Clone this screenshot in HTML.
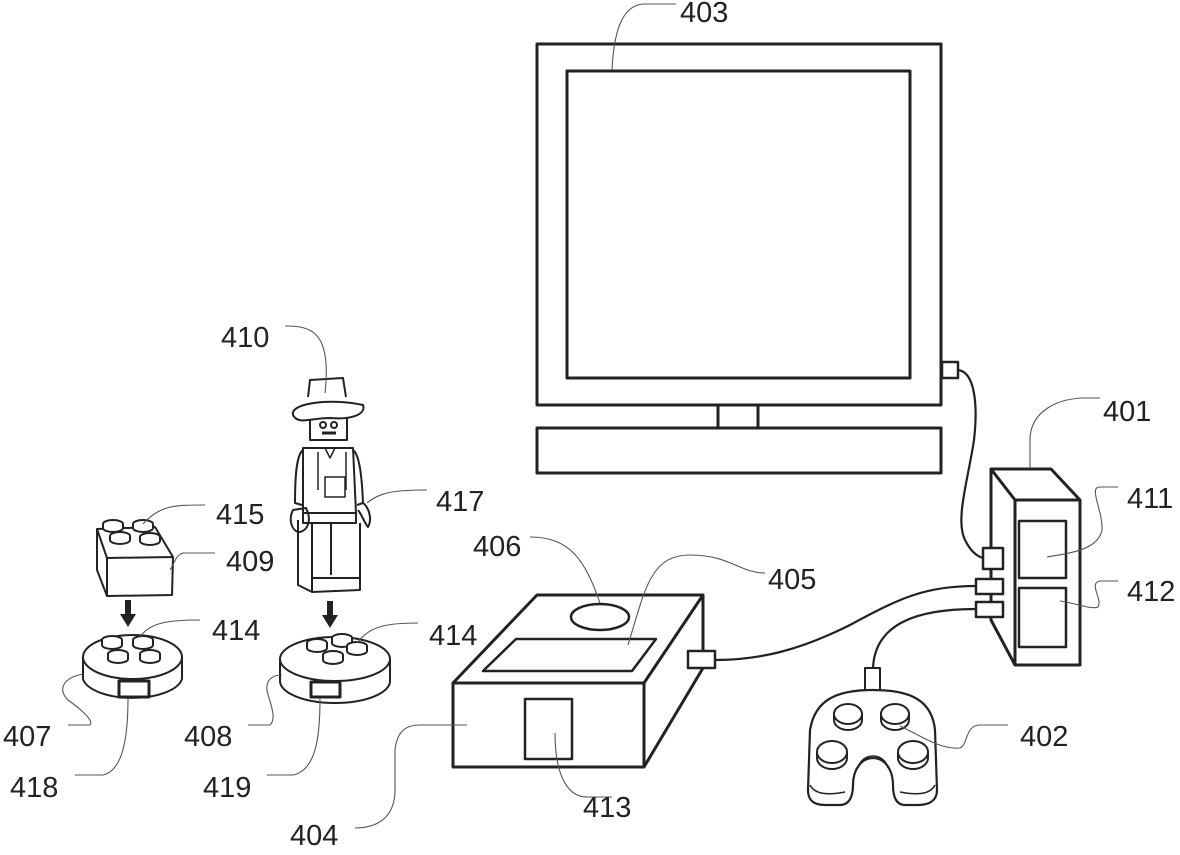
<!DOCTYPE html>
<html><head><meta charset="utf-8"><style>
html,body{margin:0;padding:0;background:#fff;}
svg{display:block;}
text{font-family:"Liberation Sans",sans-serif;font-size:29px;fill:#222;}
</style></head><body>
<svg width="1180" height="855" viewBox="0 0 1180 855" xmlns="http://www.w3.org/2000/svg">
<g fill="none" stroke="#222" stroke-width="3" stroke-linejoin="round">
<!-- monitor -->
<rect x="537" y="44" width="404" height="361"/>
<rect x="567" y="71" width="343" height="307"/>
<rect x="718" y="405" width="40" height="23"/>
<rect x="537" y="428" width="404" height="45"/>
<rect x="942" y="362" width="16" height="16" stroke-width="2.5"/>
<!-- console 401 -->
<path d="M991,469 L1051,469 L1080,500 L1080,665 L1015,665 L991,620 Z"/>
<path d="M991,469 L1015,500 L1080,500 M1015,500 L1015,665"/>
<rect x="1019" y="521" width="47" height="57" stroke-width="2.5"/>
<rect x="1019" y="588" width="47" height="59" stroke-width="2.5"/>
<rect x="983" y="548" width="20" height="21" fill="#fff" stroke-width="2.5"/>
<rect x="976" y="579" width="27" height="15" fill="#fff" stroke-width="2.5"/>
<rect x="976" y="602" width="27" height="15" fill="#fff" stroke-width="2.5"/>
<!-- cables -->
<path d="M958,370 C975,372 978,405 974,440 C968,480 955,520 965,540 C970,550 976,556 983,558" stroke-width="2.2"/>
<path d="M715,660 C760,660 800,650 850,625 C900,598 925,586 976,586" stroke-width="2.2"/>
<path d="M976,609 C920,609 875,622 873,668" stroke-width="2.2"/>
<!-- box 404 -->
<path d="M453,683 L537,595 L703,595 L703,651"/>
<path d="M703,668 L644,767"/>
<rect x="453" y="683" width="191" height="84"/>
<path d="M644,683 L703,595"/>
<path d="M516,639 L656,639 L632,671 L483,671 Z" stroke-width="2.5"/>
<ellipse cx="600" cy="617" rx="29" ry="13" stroke-width="2.5"/>
<rect x="525" y="699" width="47" height="60" stroke-width="2.5"/>
<rect x="688" y="651" width="27" height="17" stroke-width="2.5"/>
<!-- controller -->
<rect x="865" y="668" width="15" height="22" stroke-width="2"/>
<path d="M873,690 C910,690 932,700 935,730 L937,790 C937,800 930,805 918,805 L905,805 C895,805 893,795 893,785 C893,770 885,758 873,758 C861,758 853,770 853,785 C853,795 850,805 840,805 L825,805 C813,805 808,800 808,790 L810,730 C815,700 836,690 873,690 Z" stroke-width="2.2"/>
<path d="M810,785 C815,795 830,795 845,792 M935,785 C930,795 915,795 900,792 M858,768 C862,752 884,752 888,768" stroke-width="1.5"/>
<g stroke-width="2">
<ellipse cx="848" cy="714" rx="14" ry="10"/><path d="M834,714 v6 a14,10 0 0 0 28,0 v-6"/>
<ellipse cx="895" cy="714" rx="14" ry="10"/><path d="M881,714 v6 a14,10 0 0 0 28,0 v-6"/>
<ellipse cx="832" cy="752" rx="15" ry="11"/><path d="M817,752 v6 a15,11 0 0 0 30,0 v-6"/>
<ellipse cx="913" cy="752" rx="15" ry="11"/><path d="M898,752 v6 a15,11 0 0 0 30,0 v-6"/>
</g>
<!-- brick 409 -->
<g stroke-width="2">
<path d="M97,529 L155,527 L173,557 L172,595 L107,596 L97,570 Z M97,529 L107,558 L173,557 M107,558 L107,596"/>
<g fill="#fff">
<ellipse cx="113" cy="524" rx="10" ry="4"/><path d="M103,524 v4 a10,4 0 0 0 20,0 v-4"/>
<ellipse cx="143" cy="524" rx="10" ry="4"/><path d="M133,524 v4 a10,4 0 0 0 20,0 v-4"/>
<ellipse cx="120" cy="536" rx="10" ry="4"/><path d="M110,536 v4 a10,4 0 0 0 20,0 v-4"/>
<ellipse cx="150" cy="537" rx="10" ry="4"/><path d="M140,537 v4 a10,4 0 0 0 20,0 v-4"/>
</g>
<!-- base 407 -->
<path d="M83,657 L83,679 A50,22 0 0 0 182,679 L182,657"/>
<ellipse cx="132.5" cy="657" rx="49.5" ry="22" fill="#fff"/>
<rect x="119" y="681" width="30" height="16" stroke-width="3"/>
<g fill="#fff">
<ellipse cx="112" cy="640" rx="10" ry="4"/><path d="M102,640 v5 a10,4 0 0 0 20,0 v-5"/>
<ellipse cx="143" cy="640" rx="10" ry="4"/><path d="M133,640 v5 a10,4 0 0 0 20,0 v-5"/>
<ellipse cx="118" cy="654" rx="10" ry="4"/><path d="M108,654 v5 a10,4 0 0 0 20,0 v-5"/>
<ellipse cx="150" cy="654" rx="10" ry="4"/><path d="M140,654 v5 a10,4 0 0 0 20,0 v-5"/>
</g>
<!-- base 408 -->
<path d="M280,659 L280,681 A55,22 0 0 0 390,681 L390,659"/>
<ellipse cx="335" cy="659" rx="55" ry="22" fill="#fff"/>
<rect x="311" y="682" width="29" height="15" stroke-width="3"/>
<g fill="#fff">
<ellipse cx="317" cy="643" rx="10" ry="4"/><path d="M307,643 v5 a10,4 0 0 0 20,0 v-5"/>
<ellipse cx="342" cy="638" rx="10" ry="4"/><path d="M332,638 v5 a10,4 0 0 0 20,0 v-5"/>
<ellipse cx="357" cy="646" rx="10" ry="4"/><path d="M347,646 v5 a10,4 0 0 0 20,0 v-5"/>
<ellipse cx="333" cy="655" rx="10" ry="4"/><path d="M323,655 v5 a10,4 0 0 0 20,0 v-5"/>
</g>
<!-- figure 410 -->
<path d="M308,397 L310,380 L343,378 L346,397"/>
<path d="M293,415 C290,403 330,398 363,405 C366,413 355,420 330,418 C310,418 298,425 293,415 Z"/>
<path d="M310,420 L310,440 L347,440 L347,418"/>
<circle cx="323" cy="425" r="3"/><circle cx="334" cy="425" r="3"/>
<path d="M322,433 h14" stroke-width="3"/>
<path d="M303,448 L353,448 L356,513 L303,513 Z"/>
<path d="M303,450 C296,455 295,480 295,503 L302,505 M353,450 C360,455 362,480 363,503 L357,505"/>
<path d="M318,452 L318,490 M346,452 L346,490 M325,448 L330,458 L335,448 M325,477 h20 v20 h-20 z" stroke-width="1.5"/>
<path d="M293,510 C288,520 292,532 300,532 C308,530 312,520 306,508 Z"/>
<path d="M362,502 C370,508 372,520 368,527 C364,522 362,515 358,510"/>
<path d="M303,513 L356,513 L356,523 L303,523 Z"/>
<path d="M298,520 L298,585 L312,592 L360,590 L360,523 M331,523 L331,575 M312,578 L360,578 M312,523 L312,592"/>
</g>
<!-- arrows -->
<g fill="#222" stroke="none">
<rect x="125" y="600" width="6" height="16"/><path d="M120,614 L136,614 L128,627 Z"/>
<rect x="327" y="601" width="6" height="16"/><path d="M322,615 L338,615 L330,628 Z"/>
</g>
</g>
<!-- leaders -->
<g fill="none" stroke="#555" stroke-width="1.1">
<path d="M676,4 L645,4 C625,4 614,25 612,70"/>
<path d="M1100,398 L1085,398 C1060,398 1030,410 1030,440 L1030,468"/>
<path d="M1118,487 L1100,487 C1088,487 1103,510 1102,530 C1098,550 1070,553 1047,557"/>
<path d="M1118,581 L1100,581 C1088,583 1103,600 1098,607 C1092,610 1075,603 1060,601"/>
<path d="M1008,725 L980,725 C965,725 968,745 960,748 C940,750 920,735 900,726"/>
<path d="M530,537 C570,537 585,560 600,603"/>
<path d="M765,573 C740,573 730,555 690,555 C650,555 645,590 628,645"/>
<path d="M612,797 L587,797 C565,797 555,770 555,733"/>
<path d="M355,828 C380,828 395,815 395,790 L395,750 C397,732 405,725 420,725 L467,725"/>
<path d="M285,326 C310,326 332,330 325,393"/>
<path d="M205,505 C175,505 160,505 143,524"/>
<path d="M215,553 L183,553 C176,555 175,562 170,570"/>
<path d="M200,620 C170,620 150,622 140,637"/>
<path d="M418,623 C390,623 370,625 357,643"/>
<path d="M427,490 C395,490 380,492 367,503"/>
<path d="M68,725 L90,725 C95,720 75,705 68,700 C58,690 62,678 83,674"/>
<path d="M75,775 L103,775 C125,770 128,730 128,698"/>
<path d="M248,725 L270,725 C278,718 268,698 267,690 C266,680 272,675 282,675"/>
<path d="M267,775 L293,775 C318,770 320,730 320,698"/>
</g>
<!-- labels -->
<text x="680" y="22">403</text>
<text x="1103" y="421">401</text>
<text x="1127" y="508">411</text>
<text x="1127" y="601">412</text>
<text x="1020" y="746">402</text>
<text x="473" y="556">406</text>
<text x="768" y="589">405</text>
<text x="583" y="817">413</text>
<text x="290" y="845">404</text>
<text x="221" y="347">410</text>
<text x="216" y="524">415</text>
<text x="226" y="571">409</text>
<text x="436" y="511">417</text>
<text x="212" y="640">414</text>
<text x="429" y="645">414</text>
<text x="3" y="746">407</text>
<text x="10" y="797">418</text>
<text x="184" y="746">408</text>
<text x="203" y="797">419</text>
</svg>
</body></html>
